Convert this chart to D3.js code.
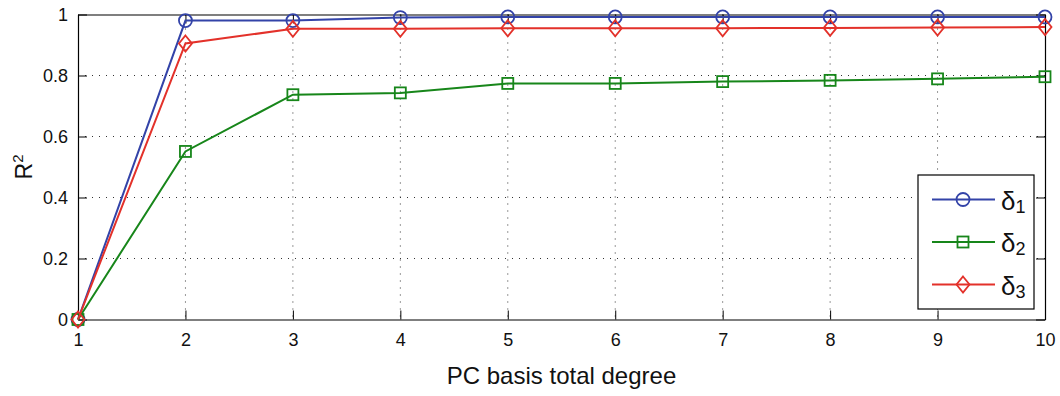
<!DOCTYPE html>
<html>
<head>
<meta charset="utf-8">
<script src="https://cdn.jsdelivr.net/npm/d3@7"></script>
<style>
  html, body { margin: 0; padding: 0; background: #fff; }
  svg { display: block; font-family: "Liberation Sans", Arial, Helvetica, sans-serif; }
</style>
</head>
<body>
<svg id="chart" width="1060" height="396"></svg>
<script>
// PC basis total degree vs. R^2 for three outputs
const degrees = [1, 2, 3, 4, 5, 6, 7, 8, 9, 10];
const delta1 = [0, 0.980, 0.980, 0.990, 0.992, 0.992, 0.992, 0.992, 0.992, 0.992];
const delta2 = [0, 0.551, 0.737, 0.743, 0.774, 0.774, 0.780, 0.784, 0.789, 0.796];
const delta3 = [0, 0.905, 0.953, 0.953, 0.955, 0.955, 0.955, 0.956, 0.957, 0.959];
const xTicks = [1, 2, 3, 4, 5, 6, 7, 8, 9, 10];
const yTicks = [0, 0.2, 0.4, 0.6, 0.8, 1];

const series = [
  { name: "1", values: delta1, color: "#3343a8", marker: "circle" },
  { name: "2", values: delta2, color: "#17861a", marker: "square" },
  { name: "3", values: delta3, color: "#e3312a", marker: "diamond" }
];

const svg = d3.select("#chart");
const m = { left: 78, right: 1045, top: 14.5, bottom: 319.5 };

const x = d3.scaleLinear().domain([1, 10]).range([m.left, m.right]);
const y = d3.scaleLinear().domain([0, 1]).range([m.bottom, m.top]);

// dotted grid
const grid = svg.append("g");
grid.selectAll("line.gx").data(xTicks.slice(1, -1)).join("line")
  .attr("x1", d => x(d)).attr("x2", d => x(d))
  .attr("y1", m.top).attr("y2", m.bottom)
  .attr("stroke", "#333").attr("stroke-width", 1).attr("stroke-dasharray", "1,6");
grid.selectAll("line.gy").data(yTicks.slice(1, -1)).join("line")
  .attr("y1", d => y(d)).attr("y2", d => y(d))
  .attr("x1", m.left).attr("x2", m.right)
  .attr("stroke", "#333").attr("stroke-width", 1).attr("stroke-dasharray", "1,6");

// axes with inward ticks on all four sides
const tickLen = 9;
const axB = svg.append("g").attr("transform", `translate(0,${m.bottom})`)
  .call(d3.axisBottom(x).tickValues(xTicks).tickFormat(d3.format("d")).tickSizeInner(-tickLen).tickSizeOuter(0).tickPadding(14));
const axT = svg.append("g").attr("transform", `translate(0,${m.top})`)
  .call(d3.axisTop(x).tickValues(xTicks).tickFormat("").tickSizeInner(-tickLen).tickSizeOuter(0));
const axL = svg.append("g").attr("transform", `translate(${m.left},0)`)
  .call(d3.axisLeft(y).tickValues(yTicks).tickFormat(d => d === 0 || d === 1 ? d3.format("d")(d) : d3.format(".1f")(d)).tickSizeInner(-tickLen).tickSizeOuter(0).tickPadding(10));
const axR = svg.append("g").attr("transform", `translate(${m.right},0)`)
  .call(d3.axisRight(y).tickValues(yTicks).tickFormat("").tickSizeInner(-tickLen).tickSizeOuter(0));

[axB, axT, axL, axR].forEach(a => {
  a.select(".domain").attr("stroke", "#000").attr("stroke-width", 1.2);
  a.selectAll(".tick line").attr("stroke", "#000").attr("stroke-width", 1);
  a.selectAll("text").attr("fill", "#111").style("font-size", "18px")
    .style("font-family", "'Liberation Sans', Arial, sans-serif");
});
axL.selectAll("text").attr("dy", "0.36em");

// axis titles
svg.append("text")
  .attr("x", (m.left + m.right) / 2).attr("y", 384)
  .attr("text-anchor", "middle").attr("fill", "#111")
  .style("font-size", "24px").text("PC basis total degree");

const yLab = svg.append("text")
  .attr("transform", `translate(32,${(m.top + m.bottom) / 2}) rotate(-90)`)
  .attr("text-anchor", "middle").attr("fill", "#111")
  .style("font-size", "23px");
yLab.append("tspan").text("R");
yLab.append("tspan").attr("dy", "-9").style("font-size", "15px").text("2");

// marker shapes
function drawMarker(g, type, color) {
  if (type === "circle") {
    g.append("circle").attr("r", 6.5).attr("fill", "none").attr("stroke", color).attr("stroke-width", 1.8);
  } else if (type === "square") {
    g.append("rect").attr("x", -5.5).attr("y", -5.5).attr("width", 11).attr("height", 11)
      .attr("fill", "none").attr("stroke", color).attr("stroke-width", 1.8);
  } else {
    g.append("path").attr("d", "M0,-8L6.5,0L0,8L-6.5,0Z")
      .attr("fill", "none").attr("stroke", color).attr("stroke-width", 1.8);
  }
}

const line = d3.line().x(d => x(d[0])).y(d => y(d[1]));
const plot = svg.append("g");
series.forEach(s => {
  const pts = degrees.map((d, i) => [d, s.values[i]]);
  plot.append("path").datum(pts).attr("d", line)
    .attr("fill", "none").attr("stroke", s.color).attr("stroke-width", 2);
  pts.forEach(p => {
    const g = plot.append("g").attr("transform", `translate(${x(p[0])},${y(p[1])})`);
    drawMarker(g, s.marker, s.color);
  });
});

// legend
const lg = svg.append("g").attr("transform", "translate(918,175)");
lg.append("rect").attr("width", 116).attr("height", 134)
  .attr("fill", "#fff").attr("stroke", "#000").attr("stroke-width", 1.2);
series.forEach((s, i) => {
  const row = lg.append("g").attr("transform", `translate(0,${24.5 + i * 42.5})`);
  row.append("line").attr("x1", 14).attr("x2", 77).attr("stroke", s.color).attr("stroke-width", 2);
  const mg = row.append("g").attr("transform", "translate(45,0)");
  drawMarker(mg, s.marker, s.color);
  const t = row.append("text").attr("x", 83).attr("y", 10).attr("fill", "#111").style("font-size", "26px");
  t.append("tspan").text("δ");
  t.append("tspan").attr("dy", "3").style("font-size", "18px").text(s.name);
});
</script>
</body>
</html>
